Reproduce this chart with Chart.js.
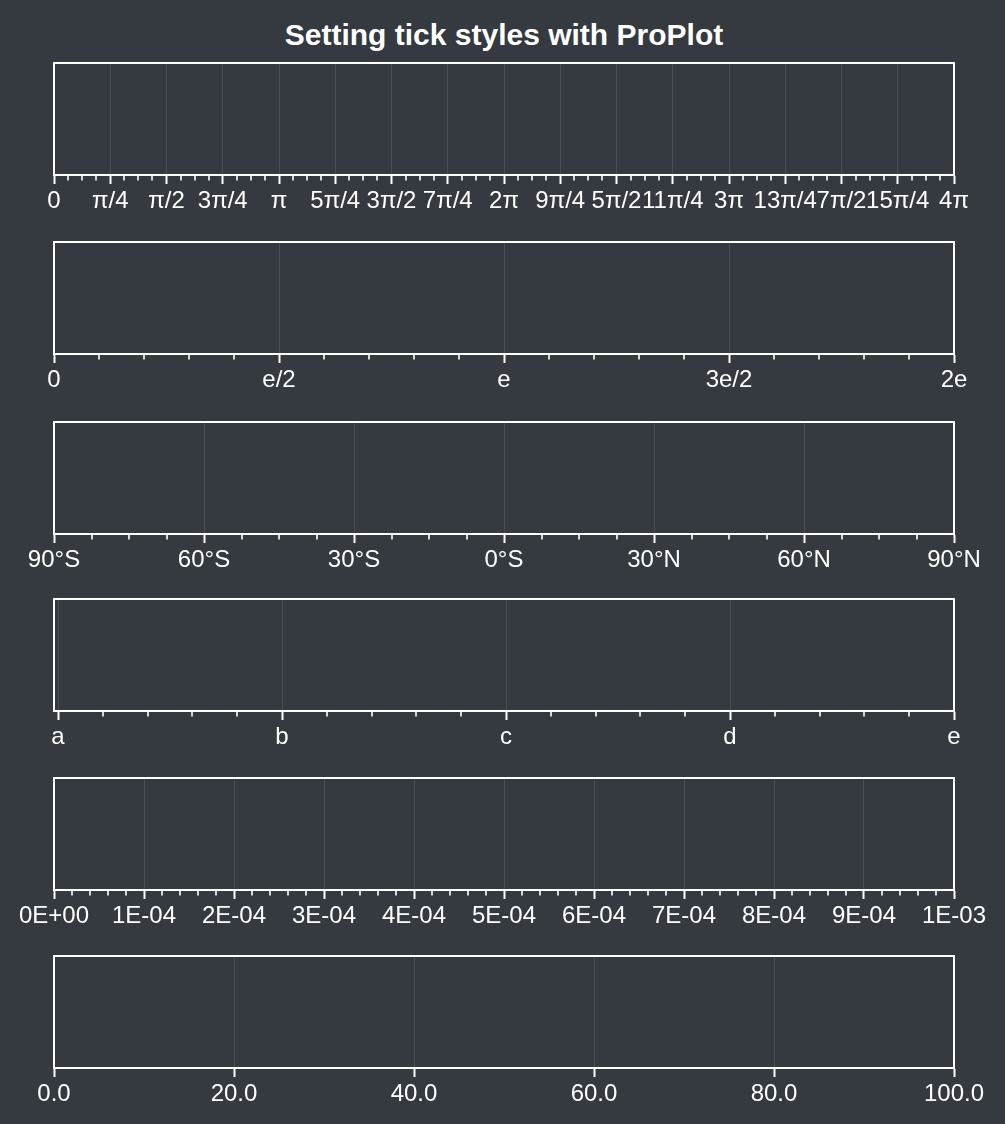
<!DOCTYPE html>
<html>
<head>
<meta charset="utf-8">
<script src="https://cdn.jsdelivr.net/npm/chart.js@4"></script>
<style>
  html, body { margin: 0; padding: 0; background: #343a40; }
  #wrap { position: relative; width: 1005px; height: 1124px; background: #343a40; overflow: hidden; }
  #title { position: absolute; left: 0; width: 1008px; top: 20px; text-align: center;
           font: bold 30px "Liberation Sans", Arial, sans-serif; line-height: 30px; color: #ffffff; }
  canvas { position: absolute; left: 0; }
</style>
</head>
<body>
<div id="wrap">
  <div id="title">Setting tick styles with ProPlot</div>
  <canvas id="c0" width="1005" height="167"></canvas>
  <canvas id="c1" width="1005" height="167"></canvas>
  <canvas id="c2" width="1005" height="167"></canvas>
  <canvas id="c3" width="1005" height="167"></canvas>
  <canvas id="c4" width="1005" height="167"></canvas>
  <canvas id="c5" width="1005" height="167"></canvas>
</div>
<script>
// ---- tick values and labels (top-level named arrays) ----
const piTickMultiples = [0, 0.25, 0.5, 0.75, 1, 1.25, 1.5, 1.75, 2, 2.25, 2.5, 2.75, 3, 3.25, 3.5, 3.75, 4];
const piTickValues = piTickMultiples.map(k => k * Math.PI);
const piTickLabels = ['0', 'π/4', 'π/2', '3π/4', 'π', '5π/4', '3π/2', '7π/4', '2π', '9π/4', '5π/2', '11π/4', '3π', '13π/4', '7π/2', '15π/4', '4π'];

const eTickMultiples = [0, 0.5, 1, 1.5, 2];
const eTickValues = eTickMultiples.map(k => k * Math.E);
const eTickLabels = ['0', 'e/2', 'e', '3e/2', '2e'];

const latTickValues = [-90, -60, -30, 0, 30, 60, 90];
const latTickLabels = ['90°S', '60°S', '30°S', '0°S', '30°N', '60°N', '90°N'];

const letterTickValues = [0, 1, 2, 3, 4];
const letterTickLabels = ['a', 'b', 'c', 'd', 'e'];

const sciTickValues = [0, 1e-4, 2e-4, 3e-4, 4e-4, 5e-4, 6e-4, 7e-4, 8e-4, 9e-4, 1e-3];
const sciTickLabels = ['0E+00', '1E-04', '2E-04', '3E-04', '4E-04', '5E-04', '6E-04', '7E-04', '8E-04', '9E-04', '1E-03'];

const pctTickValues = [0, 20, 40, 60, 80, 100];
const pctTickLabels = ['0.0', '20.0', '40.0', '60.0', '80.0', '100.0'];

const axisMins = [0, 0, -90, -0.018, 0, 0];
const axisMaxs = [4 * Math.PI, 2 * Math.E, 90, 4, 1e-3, 100];
const minorDivisions = [4, 5, 4, 5, 5, 0];

const panelTickValues = [piTickValues, eTickValues, latTickValues, letterTickValues, sciTickValues, pctTickValues];
const panelTickLabels = [piTickLabels, eTickLabels, latTickLabels, letterTickLabels, sciTickLabels, pctTickLabels];

// ---- layout ----
const panelTops = [63, 242, 422, 599, 778, 956];
const PAD_TOP = 10;
const AXIS_H = 45;
const FG = '#ffffff';
const GRID = 'rgba(255,255,255,0.1)';
const FONT = '"Liberation Sans", Arial, sans-serif';

const framePlugin = {
  id: 'frameAndMinor',
  afterDraw(chart, args, opts) {
    const ctx = chart.ctx;
    const a = chart.chartArea;
    const sx = chart.scales.x;
    const majors = opts.majors;
    const n = opts.minor;
    ctx.save();
    ctx.strokeStyle = FG;
    // minor ticks
    if (n > 0) {
      ctx.lineWidth = 1.6;
      ctx.beginPath();
      for (let i = 0; i < majors.length - 1; i++) {
        for (let j = 1; j < n; j++) {
          const v = majors[i] + (majors[i + 1] - majors[i]) * j / n;
          const px = Math.round(sx.getPixelForValue(v)) ;
          ctx.moveTo(px, a.bottom);
          ctx.lineTo(px, a.bottom + 5.5);
        }
      }
      ctx.stroke();
    }
    // frame spines
    ctx.lineWidth = 2;
    ctx.strokeRect(a.left, a.top, a.right - a.left, a.bottom - a.top);
    ctx.restore();
  }
};

for (let i = 0; i < 6; i++) {
  const canvas = document.getElementById('c' + i);
  canvas.style.top = (panelTops[i] - PAD_TOP) + 'px';
  const majors = panelTickValues[i];
  const labels = panelTickLabels[i];
  new Chart(canvas, {
    type: 'line',
    data: { datasets: [] },
    plugins: [framePlugin],
    options: {
      responsive: false,
      animation: false,
      events: [],
      layout: { padding: { top: PAD_TOP, left: 54, right: 51, bottom: 0 } },
      plugins: {
        legend: { display: false },
        tooltip: { enabled: false },
        title: { display: false },
        frameAndMinor: { majors: majors, minor: minorDivisions[i] }
      },
      scales: {
        x: {
          type: 'linear',
          position: 'bottom',
          min: axisMins[i],
          max: axisMaxs[i],
          afterBuildTicks: (scale) => { scale.ticks = majors.map(v => ({ value: v })); },
          afterFit: (scale) => { scale.height = AXIS_H; },
          grid: {
            color: GRID,
            lineWidth: 1,
            drawTicks: true,
            tickLength: 9,
            tickColor: FG,
            tickWidth: 2
          },
          border: { display: true, color: FG, width: 2 },
          ticks: {
            autoSkip: false,
            maxRotation: 0,
            minRotation: 0,
            includeBounds: false,
            padding: 2.5,
            color: FG,
            font: { family: FONT, size: 24 },
            callback: (value, index) => labels[index]
          }
        },
        y: { display: false, min: 0, max: 1 }
      }
    }
  });
}
</script>
</body>
</html>
